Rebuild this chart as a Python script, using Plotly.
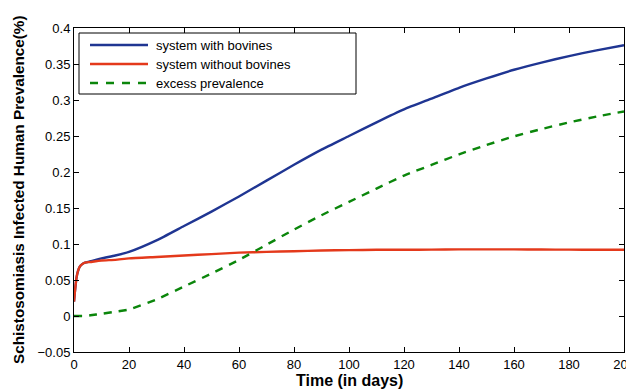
import plotly.graph_objects as go

# Data
t = [0, 0.5, 1, 1.5, 2, 3, 4, 6, 10, 15, 20, 30, 40, 50, 60, 70, 80, 90, 100,
     110, 120, 130, 140, 150, 160, 170, 180, 190, 200]
with_bovines = [0.020, 0.040, 0.055, 0.063, 0.068, 0.072, 0.074, 0.076, 0.080, 0.084,
                0.089, 0.105, 0.125, 0.145, 0.166, 0.188, 0.210, 0.231, 0.250,
                0.269, 0.287, 0.302, 0.317, 0.330, 0.342, 0.352, 0.361, 0.369, 0.376]
without_bovines = [0.020, 0.040, 0.055, 0.063, 0.068, 0.072, 0.074, 0.075, 0.077, 0.078,
                   0.080, 0.082, 0.084, 0.086, 0.088, 0.089, 0.090, 0.091, 0.0915,
                   0.092, 0.092, 0.0922, 0.0925, 0.0925, 0.0925, 0.0923, 0.0922, 0.092, 0.092]
excess = [0.0, 0.0, 0.0, 0.0, 0.0, 0.0, 0.0, 0.001, 0.003, 0.006,
          0.009, 0.023, 0.041, 0.059, 0.078, 0.099, 0.120, 0.140, 0.1585,
          0.177, 0.195, 0.2098, 0.2245, 0.2375, 0.2495, 0.2597, 0.2688, 0.277, 0.284]

x_ticks = [0, 20, 40, 60, 80, 100, 120, 140, 160, 180, 200]
y_ticks = [-0.05, 0, 0.05, 0.1, 0.15, 0.2, 0.25, 0.3, 0.35, 0.4]
y_tick_text = ["\u22120.05", "0", "0.05", "0.1", "0.15", "0.2", "0.25", "0.3", "0.35", "0.4"]

names = ["system with bovines", "system without bovines", "excess prevalence"]
colors = ["#1f3592", "#e4391b", "#0b860b"]
dashes = ["solid", "solid", "8px,7px"]
series = [with_bovines, without_bovines, excess]

fig = go.Figure()
for name, ys, col, dsh in zip(names, series, colors, dashes):
    fig.add_trace(go.Scatter(x=t, y=ys, mode="lines", name=name, showlegend=False,
                             line=dict(color=col, width=2.4, dash=dsh,
                                       shape="spline", smoothing=0.5)))

font = "Liberation Sans, Arial, Helvetica, sans-serif"
axis_common = dict(showline=True, linecolor="black", linewidth=1, mirror="ticks",
                   ticks="inside", ticklen=5, tickcolor="black", showgrid=False,
                   zeroline=False, ticklabeloverflow="allow",
                   tickfont=dict(family=font, size=13, color="black"))

fig.update_xaxes(range=[0, 200], tickvals=x_ticks, ticktext=[str(v) for v in x_ticks],
                 **axis_common)
fig.update_yaxes(range=[-0.05, 0.4], tickvals=y_ticks, ticktext=y_tick_text,
                 **axis_common)

# Plot-area geometry in window pixels (body has an 8px margin)
PL, PR, PT, PB = 74, 624, 28, 352
def px(x):
    return (x - PL) / (PR - PL)
def py(y):
    return (PB - y) / (PB - PT)

shapes = [dict(type="rect", xref="paper", yref="paper",
               x0=px(79), x1=px(356), y0=py(94), y1=py(33),
               line=dict(color="black", width=1), fillcolor="white", layer="above")]
annotations = []
row_y = [45, 64, 83]
for name, col, dsh, ry in zip(names, colors, ["solid", "solid", "8px,8px"], row_y):
    shapes.append(dict(type="line", xref="paper", yref="paper",
                       x0=px(90), x1=px(148), y0=py(ry), y1=py(ry),
                       line=dict(color=col, width=2.4, dash=dsh), layer="above"))
    annotations.append(dict(text=name, xref="paper", yref="paper", x=px(154), y=py(ry),
                            xanchor="left", yanchor="middle", showarrow=False,
                            font=dict(family=font, size=13, color="black")))

annotations += [
    dict(text="<b>Time (in days)</b>", xref="paper", yref="paper",
         x=0.5, y=py(380), xanchor="center", yanchor="middle", showarrow=False,
         font=dict(family=font, size=16, color="black")),
    dict(text="<b>Schistosomiasis Infected Human Prevalence(%)</b>", xref="paper",
         yref="paper", x=px(18), y=py(190), xanchor="center", yanchor="middle",
         textangle=-90, showarrow=False,
         font=dict(family=font, size=15.3, color="black")),
]

fig.update_layout(
    width=626, height=384,
    margin=dict(l=66, r=10, t=20, b=40, autoexpand=False),
    paper_bgcolor="white", plot_bgcolor="white",
    showlegend=False,
    shapes=shapes,
    annotations=annotations,
)

fig.write_html("out.html")
